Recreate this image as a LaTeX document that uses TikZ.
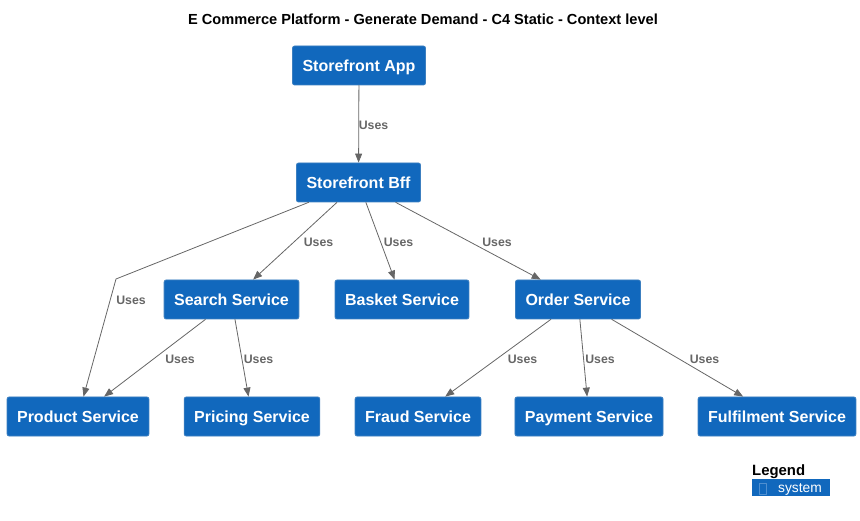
\documentclass[tikz,border=0pt]{standalone}
\usepackage{fontspec}
\setmainfont{Liberation Sans}
\usetikzlibrary{arrows.meta,calc,positioning}
\tikzset{>={Triangle[length=9pt,width=7pt]}}
\definecolor{sysblue}{HTML}{1168BD}
\definecolor{sysedge}{HTML}{3C7FC0}
\definecolor{relgray}{HTML}{666666}
\definecolor{tofu}{HTML}{4F8FD0}

\begin{document}
\begin{tikzpicture}[line cap=round,line join=round,x=1pt,y=-1pt,
  system/.style={draw=sysedge,fill=sysblue,text=white,rounded corners=2pt,line width=0.8pt,
    minimum height=39pt,inner xsep=10pt,text height=11.6pt,text depth=0pt,
    font=\fontsize{16}{18}\selectfont\bfseries},
  uses/.style={->,draw=relgray,line width=0.8pt},
  lbl/.style={text=relgray,inner sep=0pt,font=\fontsize{12.3}{14}\selectfont\bfseries}]
\useasboundingbox (0,0) rectangle (860,521);
\node[font=\fontsize{14.6}{17}\selectfont\bfseries] (title) at (423,19.5) {E Commerce Platform - Generate Demand - C4 Static - Context level};
\node[system] (app) at (359,65.5) {Storefront App};
\node[system] (bff) at (358.5,182.5) {Storefront Bff};
\node[system] (search) at (231.5,299.5) {Search Service};
\node[system] (basket) at (402,299.5) {Basket Service};
\node[system] (order) at (578,299.5) {Order Service};
\node[system] (product) at (78,416.5) {Product Service};
\node[system] (pricing) at (252,416.5) {Pricing Service};
\node[system] (fraud) at (418,416.5) {Fraud Service};
\node[system] (payment) at (589,416.5) {Payment Service};
\node[system] (fulfil) at (777,416.5) {Fulfilment Service};
\coordinate (bendP) at (116,279);
\draw[uses] (app) -- (bff);
\draw[uses] (bff) -- (bendP) -- (product);
\draw[uses] (bff) -- (search);
\draw[uses] (bff) -- (basket);
\draw[uses] (bff) -- (order);
\draw[uses] (search) -- (product);
\draw[uses] (search) -- (pricing);
\draw[uses] (order) -- (fraud);
\draw[uses] (order) -- (payment);
\draw[uses] (order) -- (fulfil);
\node[lbl] (u1) at (373.5,125.5) {Uses};
\node[lbl] (u2) at (131,300.5) {Uses};
\node[lbl] (u3) at (318.5,242) {Uses};
\node[lbl] (u4) at (398.5,242) {Uses};
\node[lbl] (u5) at (497,242) {Uses};
\node[lbl] (u6) at (180,359) {Uses};
\node[lbl] (u7) at (258.5,359) {Uses};
\node[lbl] (u8) at (522.5,359) {Uses};
\node[lbl] (u9) at (600,359) {Uses};
\node[lbl] (u10) at (704.5,359) {Uses};
\node[anchor=west,inner sep=0pt,font=\fontsize{14.9}{17}\selectfont\bfseries] (legend) at (752,471.5) {Legend};
\fill[sysblue] (752,479) rectangle (830,496);
\draw[tofu,line width=0.5pt] (759.5,483) rectangle (766.5,494);
\node[text=white,inner sep=0pt,font=\fontsize{13.8}{15}\selectfont] (legsys) at (800,489) {system};
\end{tikzpicture}
\end{document}
